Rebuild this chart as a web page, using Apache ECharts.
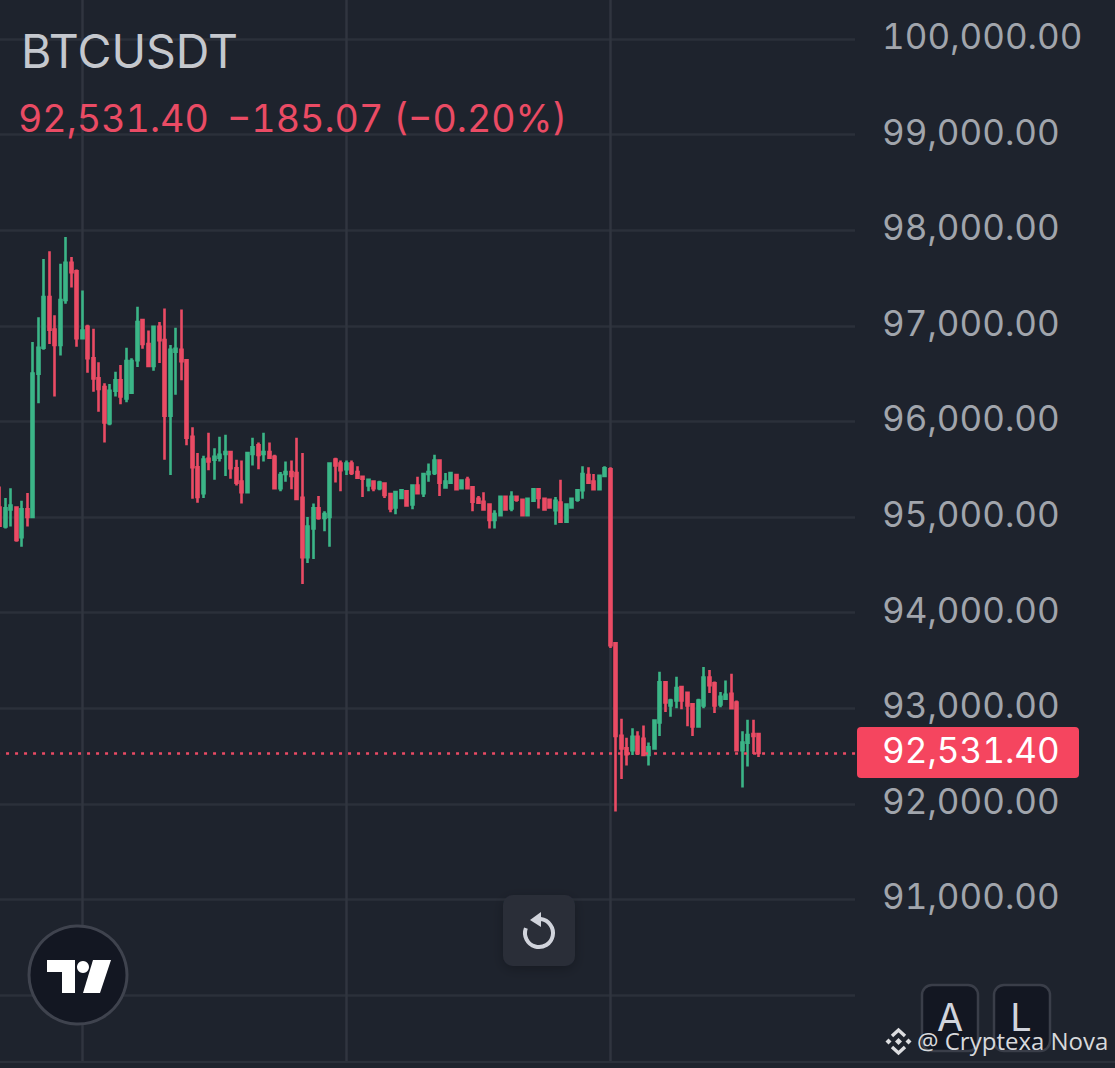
<!DOCTYPE html>
<html>
<head>
<meta charset="utf-8">
<title>BTCUSDT</title>
<script src="https://cdn.jsdelivr.net/npm/echarts@6/dist/echarts.min.js"></script>
<style>
    html, body { margin: 0; padding: 0; background: #1e232d; }
    #chart { width: 1115px; height: 1068px; }
    /* the platform prints tabular digits */
    #chart text { font-feature-settings: "tnum" 1 !important; font-variant-numeric: tabular-nums !important; }
</style>
</head>
<body>
<div id="chart"></div>
<script>
    var symbol = 'BTCUSDT';
    var priceText = '92,531.40';
    var changeText = '\u2212185.07 (\u22120.20%)';
    var lastPrice = 92531.4;
    var verticalLines = [15, 63, 111];

    var opens = [
        95100,94900,95080,95100,94790,95080,95000,96500,96770,97300,96960,96800,97270,97660,97570,96870,96990,96660,96450,96360,
        95980,96320,96430,96240,96300,96640,97060,96810,96580,96990,96850,96060,96730,96750,96640,95840,95520,95250,95610,95600,
        95620,95660,95680,95510,95370,95260,95660,95750,95660,95680,95630,95300,95450,95470,95460,95200,94580,94880,95090,94990,
        95000,95600,95560,95500,95560,95470,95420,95330,95370,95300,95350,95240,95100,95200,95270,95130,95330,95250,95450,95460,
        95590,95310,95360,95440,95300,95390,95310,95190,95160,95130,94970,95020,95210,95090,95210,95180,95020,95170,95290,95190,
        95180,95070,95150,94950,95100,95180,95280,95440,95370,95290,95430,95500,93680,92710,92580,92560,92700,92680,92510,92580,
        92850,93270,93030,93080,93220,93160,93040,92810,93030,93320,93260,93040,93100,93150,93060,92560,92640,92730,92730
    ];
    var closes = [
        94910,95090,95120,94760,95080,95000,96500,96770,97300,96960,96800,97270,97660,97560,96870,96950,96660,96450,96340,95990,
        96320,96430,96260,96630,96630,97040,96810,96580,96990,96850,96060,96750,96760,96630,95830,95520,95210,95600,95580,95630,
        95650,95680,95510,95360,95260,95670,95730,95650,95680,95620,95300,95440,95470,95430,95190,94580,94900,95090,94990,95030,
        95560,95540,95490,95560,95460,95410,95400,95390,95300,95360,95230,95090,95260,95280,95120,95330,95250,95450,95470,95590,
        95360,95370,95460,95290,95380,95300,95160,95150,95080,94970,95030,95210,95080,95210,95180,95020,95190,95290,95200,95080,
        95100,95170,94950,95130,95190,95280,95450,95360,95290,95430,95510,93660,92710,92580,92520,92700,92530,92510,92590,92870,
        93270,93060,93080,93210,93080,93030,92810,93080,93320,93240,93030,93120,93140,93000,92560,92640,92720,92710,92531.4
    ];
    var lows = [
        94900,94880,94900,94740,94690,94900,94990,96190,96750,96810,96260,96690,97230,97400,96780,96860,96510,96310,96100,95780,
        95960,96260,96180,96200,96290,96570,96760,96570,96530,96610,95600,95440,96280,96430,95750,95190,95150,95200,95490,95390,
        95580,95430,95400,95330,95140,95250,95540,95500,95580,95610,95290,95270,95370,95290,95180,94300,94520,94560,94970,94850,
        94690,95360,95270,95440,95440,95400,95210,95270,95270,95280,95200,95050,95030,95190,95110,95080,95240,95210,95370,95440,
        95220,95300,95350,95280,95290,95290,95060,95140,95070,94880,94880,95010,95070,95060,95160,95010,95010,95160,95090,95070,
        95090,94920,94940,94940,95090,95160,95190,95350,95280,95280,95420,93630,91920,92260,92400,92510,92510,92500,92400,92570,
        92710,92960,92910,93000,92990,92810,92710,92800,93000,93160,92950,93010,93090,92990,92550,92170,92390,92520,92490
    ];
    var highs = [
        95320,95200,95300,95110,95170,95250,96830,97090,97700,97780,97110,97650,97930,97720,97590,97370,97010,96970,96620,96400,
        96390,96520,96590,96770,96660,97200,97070,96950,97000,97040,97180,96800,96980,97170,96650,95940,95670,95640,95880,95720,
        95840,95860,95690,95600,95590,95680,95830,95780,95880,95780,95650,95470,95580,95590,95830,95670,95000,95140,95220,95060,
        95570,95620,95590,95590,95590,95530,95430,95400,95380,95380,95360,95250,95270,95290,95280,95340,95420,95460,95560,95650,
        95600,95460,95470,95450,95390,95420,95320,95220,95260,95140,95070,95220,95220,95270,95220,95190,95200,95300,95300,95200,
        95190,95210,95390,95140,95200,95290,95530,95520,95450,95440,95530,95520,93690,92890,92690,92790,92760,92820,92640,92880,
        93380,93280,93100,93330,93230,93170,93050,93100,93430,93400,93280,93170,93290,93360,93080,92760,92880,92880,92740
    ];

    var bandCount = 156;
    var categories = [];
    for (var i = 0; i < bandCount; i++) {
        categories.push(String(i));
    }
    var candles = opens.map(function (o, k) {
        return [o, closes[k], lows[k], highs[k]];
    });

    var myChart = echarts.init(document.getElementById('chart'), null, { renderer: 'svg' });
    var font = 'Inter';
    var red = '#ea4b64';
    var green = '#3bb587';
    var axisFontSize = 35;

    function diamond(cx, cy, r) {
        return { type: 'polygon', z: 30, shape: { points: [[cx, cy - r], [cx + r, cy], [cx, cy + r], [cx - r, cy]] }, style: { fill: '#dcdde0' } };
    }
    function chevron(points) {
        return { type: 'polyline', z: 30, shape: { points: points }, style: { stroke: '#dcdde0', lineWidth: 3.4, fill: null } };
    }

    var overlay = [
        // band under the plot, hides the end of the vertical lines
        { type: 'rect', z: 5, shape: { x: 0, y: 1062, width: 1115, height: 6 }, style: { fill: '#1e232d' } },
        { type: 'rect', z: 6, shape: { x: 0, y: 1061, width: 1115, height: 2 }, style: { fill: '#2b303a' } },

        { type: 'text', z: 20, x: 21, y: 51, style: { text: symbol, font: '46.5px ' + font, fill: '#c5c8ce', verticalAlign: 'middle' } },
        { type: 'text', z: 20, x: 18, y: 118, style: { text: priceText, font: '37.6px ' + font, fill: red, verticalAlign: 'middle' } },
        { type: 'text', z: 20, x: 227, y: 118, style: { text: changeText, font: '37.6px ' + font, fill: red, verticalAlign: 'middle' } },

        // TradingView badge
        { type: 'circle', z: 20, shape: { cx: 78, cy: 975, r: 49 }, style: { fill: '#131722', stroke: '#3f434e', lineWidth: 3 } },
        { type: 'polygon', z: 21, shape: { points: [[47, 960], [75, 960], [75, 993], [62, 993], [62, 972], [47, 972]] }, style: { fill: '#fff' } },
        { type: 'circle', z: 21, shape: { cx: 83, cy: 967, r: 6 }, style: { fill: '#fff' } },
        { type: 'polygon', z: 21, shape: { points: [[93, 960], [111, 960], [100, 993], [83, 993]] }, style: { fill: '#fff' } },

        // reset button
        { type: 'rect', z: 20, shape: { x: 503, y: 895, width: 72, height: 71, r: 10 }, style: { fill: '#2a2e39', shadowBlur: 12, shadowColor: 'rgba(0,0,0,0.25)', shadowOffsetY: 3 } },
        { type: 'arc', z: 21, shape: { cx: 539, cy: 933, r: 14, startAngle: -1.45, endAngle: 3.5, clockwise: true }, style: { stroke: '#d1d4dc', lineWidth: 4, fill: null } },
        { type: 'polygon', z: 21, shape: { points: [[530, 920], [541, 912], [541, 927]] }, style: { fill: '#d1d4dc' } },

        // A and L buttons
        { type: 'rect', z: 20, shape: { x: 922, y: 985, width: 56, height: 66, r: 10 }, style: { fill: '#131722', stroke: '#3a3e49', lineWidth: 2.5 } },
        { type: 'rect', z: 20, shape: { x: 994, y: 985, width: 56, height: 66, r: 10 }, style: { fill: '#131722', stroke: '#3a3e49', lineWidth: 2.5 } },
        { type: 'text', z: 21, x: 950, y: 1017, style: { text: 'A', font: '38px ' + font, fill: '#d1d4dc', align: 'center', verticalAlign: 'middle' } },
        { type: 'text', z: 21, x: 1021, y: 1017, style: { text: 'L', font: '38px ' + font, fill: '#d1d4dc', align: 'center', verticalAlign: 'middle' } },

        // watermark
        diamond(898.5, 1041.5, 3.5),
        diamond(888.5, 1041.5, 3),
        diamond(908.5, 1041.5, 3),
        chevron([[892, 1036], [898.5, 1030], [905, 1036]]),
        chevron([[892, 1047], [898.5, 1053], [905, 1047]]),
        { type: 'text', z: 30, x: 917, y: 1040, style: { text: '@ Cryptexa Nova', font: '24px "Open Sans"', fill: '#d8d9dc', verticalAlign: 'middle' } }
    ];

    option = {
        backgroundColor: '#1e232d',
        animation: false,
        grid: { left: -2.95, width: 858, top: -56.6, height: 1147.2, containLabel: false, outerBoundsMode: 'none' },
        xAxis: {
            type: 'category',
            data: categories,
            boundaryGap: true,
            axisLine: { show: false },
            axisTick: { show: false },
            axisLabel: { show: false },
            splitLine: {
                show: true,
                alignWithLabel: true,
                interval: function (index) { return verticalLines.indexOf(index) >= 0; },
                lineStyle: { color: '#30353f', width: 2.5 }
            }
        },
        yAxis: {
            type: 'value',
            position: 'right',
            min: 89000,
            max: 101000,
            interval: 1000,
            scale: true,
            axisLine: { show: false },
            axisTick: { show: false },
            axisLabel: {
                margin: 27,
                verticalAlign: 'bottom',
                lineHeight: 6,
                color: '#a1a5ac',
                fontFamily: font,
                fontSize: axisFontSize,
                formatter: function (v) {
                    // the 90,000 row has no label in the picture
                    if (v < 91000 || v > 100000) return '';
                    return v.toLocaleString('en-US', { minimumFractionDigits: 2, maximumFractionDigits: 2 });
                }
            },
            splitLine: { show: true, lineStyle: { color: '#2b303a', width: 2.5 } }
        },
        series: [{
            type: 'candlestick',
            data: candles,
            barWidth: 2.5,
            itemStyle: {
                color: green,
                color0: red,
                borderColor: green,
                borderColor0: red,
                borderWidth: 2.6
            },
            markLine: {
                silent: true,
                symbol: 'none',
                label: { show: false },
                lineStyle: { color: red, type: [3, 6], width: 2.5 },
                data: [{ yAxis: lastPrice }]
            }
        }],
        graphic: overlay
    };
    myChart.setOption(option);

    // price tag follows the last price on the axis
    var tagY = myChart.convertToPixel({ yAxisIndex: 0 }, lastPrice);
    myChart.setOption({
        graphic: overlay.concat([
            { type: 'rect', z: 20, shape: { x: 857, y: tagY - 26, width: 222, height: 51, r: 4 }, style: { fill: '#f5455f' } },
            { type: 'text', z: 21, x: 882, y: tagY - 3, style: { text: lastPrice.toLocaleString('en-US', { minimumFractionDigits: 2 }), font: axisFontSize + 'px ' + font, fill: '#ffffff', verticalAlign: 'middle' } }
        ])
    });
</script>
</body>
</html>
